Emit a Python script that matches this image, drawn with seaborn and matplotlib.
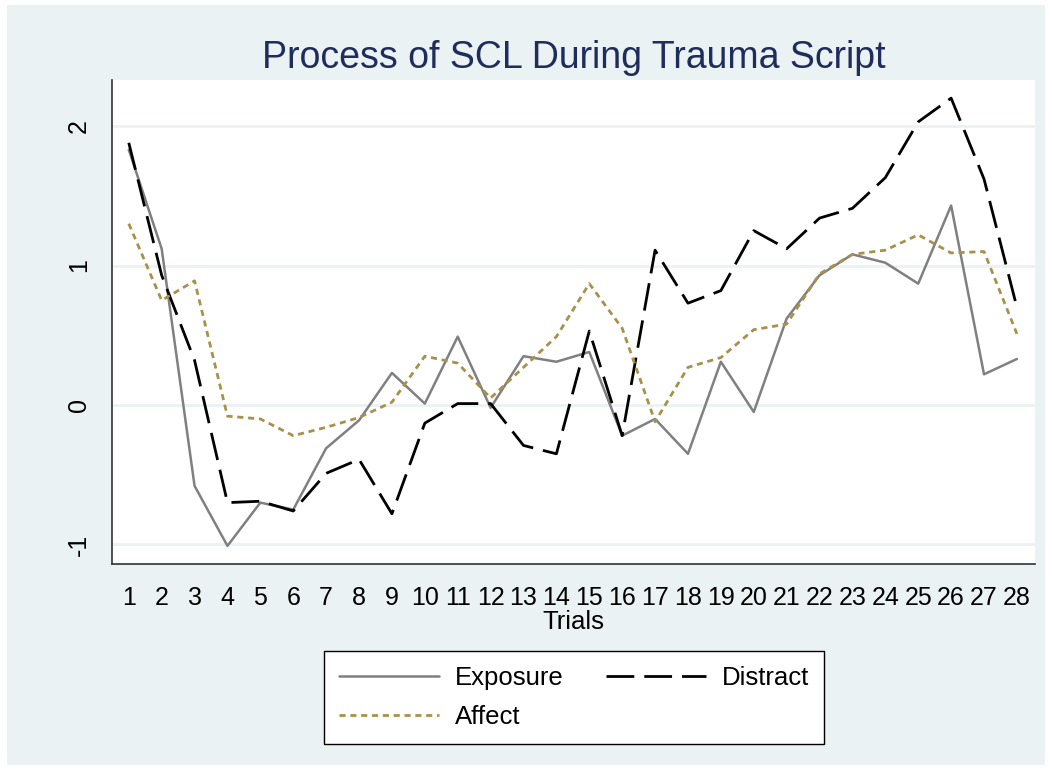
import numpy as np
import pandas as pd
import matplotlib.pyplot as plt
import seaborn as sns
from matplotlib.patches import Rectangle

trials = list(range(1, 29))
exposure = [1.83, 1.12, -0.58, -1.01, -0.70, -0.75, -0.31, -0.11, 0.23, 0.01,
            0.49, -0.02, 0.35, 0.31, 0.38, -0.22, -0.10, -0.35, 0.31, -0.05,
            0.62, 0.93, 1.08, 1.02, 0.87, 1.43, 0.22, 0.33]
distract = [1.88, 0.93, 0.32, -0.70, -0.69, -0.76, -0.49, -0.39, -0.78, -0.13,
            0.01, 0.01, -0.29, -0.35, 0.53, -0.22, 1.11, 0.73, 0.82, 1.25,
            1.12, 1.34, 1.41, 1.63, 2.03, 2.20, 1.62, 0.70]
affect = [1.30, 0.75, 0.89, -0.08, -0.10, -0.22, -0.16, -0.09, 0.02, 0.35,
          0.30, 0.05, 0.27, 0.49, 0.87, 0.55, -0.12, 0.27, 0.34, 0.54,
          0.58, 0.94, 1.08, 1.11, 1.22, 1.09, 1.10, 0.51]
yticks = [-1, 0, 1, 2]

df = pd.DataFrame({'Trial': trials, 'Exposure': exposure,
                   'Distract': distract, 'Affect': affect})

sns.set_style('white')
plt.rcParams['font.family'] = ['Liberation Sans', 'DejaVu Sans']
plt.rcParams['text.color'] = 'black'
plt.rcParams['axes.labelcolor'] = 'black'
plt.rcParams['xtick.color'] = 'black'
plt.rcParams['ytick.color'] = 'black'

bg = '#EAF2F3'
fig = plt.figure(figsize=(10.52, 7.7), dpi=100)
fig.patch.set_facecolor('white')
fig.patches.append(Rectangle((7 / 1052, 5 / 770), 1 - 14 / 1052, 1 - 10 / 770,
                             transform=fig.transFigure, facecolor=bg,
                             edgecolor='none', zorder=-5))

ax = fig.add_axes([112 / 1052, 1 - 564 / 770, (1035 - 112) / 1052, (564 - 80) / 770])
ax.set_facecolor('white')

sns.lineplot(data=df, x='Trial', y='Exposure', ax=ax, color='#808080',
             linewidth=1.8, label='Exposure')
sns.lineplot(data=df, x='Trial', y='Distract', ax=ax, color='black',
             linewidth=2.0, linestyle=(0, (10, 3.6)), label='Distract')
sns.lineplot(data=df, x='Trial', y='Affect', ax=ax, color='#A8914A',
             linewidth=2.0, linestyle=(0, (2.2, 1.7)), label='Affect')

ax.set_xlim(0.49, 28.55)
ax.set_ylim(-1.14, 2.33)
ax.set_xticks(trials)
ax.set_xticklabels([str(t) for t in trials], fontsize=18)
ax.set_yticks(yticks)
ax.set_yticklabels([str(v) for v in yticks], fontsize=18, rotation=90, va='center')
for v in yticks:
    ax.axhline(v, color=bg, linewidth=2, zorder=0)

ax.tick_params(axis='both', direction='out', length=8, width=1, color='#333333')
ax.tick_params(axis='x', pad=8)
ax.tick_params(axis='y', pad=7)
for s in ['top', 'right']:
    ax.spines[s].set_visible(False)
for s in ['left', 'bottom']:
    ax.spines[s].set_color('#333333')
    ax.spines[s].set_linewidth(1.2)

ax.set_xlabel('Trials', fontsize=18.5, labelpad=0)
ax.set_ylabel('')
ax.set_title('Process of SCL During Trauma Script', fontsize=27,
             color='#1E2D5B', pad=9)

h, l = ax.get_legend_handles_labels()
ax.get_legend().remove()
order = [0, 2, 1]
leg = fig.legend([h[i] for i in order], [l[i] for i in order], ncol=2,
                 loc='upper center', bbox_to_anchor=(574 / 1052, 1 - 651 / 770),
                 fontsize=18.5, frameon=True, fancybox=False, edgecolor='black',
                 facecolor='white', framealpha=1, handlelength=3.9,
                 handletextpad=0.6, columnspacing=1.65, labelspacing=0.55,
                 borderpad=0.6, borderaxespad=0)
leg.get_frame().set_linewidth(1.0)

fig.savefig('out.png', dpi=100, facecolor=fig.get_facecolor())
